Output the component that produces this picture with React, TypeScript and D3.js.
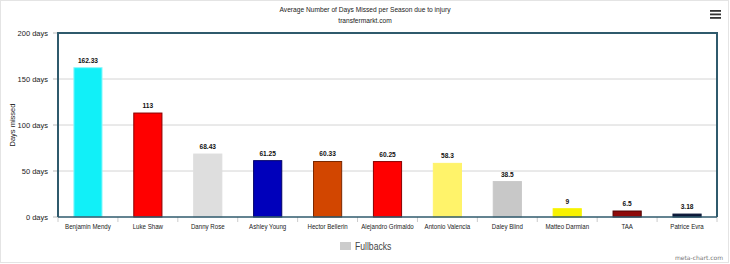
import React from "react";
import * as d3 from "d3";

const categories = [
  "Benjamin Mendy", "Luke Shaw", "Danny Rose", "Ashley Young", "Hector Bellerin",
  "Alejandro Grimaldo", "Antonio Valencia", "Daley Blind", "Matteo Darmian", "TAA", "Patrice Evra",
];
const values = [162.33, 113, 68.43, 61.25, 60.33, 60.25, 58.3, 38.5, 9, 6.5, 3.18];
const valueLabels = ["162.33", "113", "68.43", "61.25", "60.33", "60.25", "58.3", "38.5", "9", "6.5", "3.18"];
const fills = ["#11f0f8", "#ff0000", "#dedede", "#0000bb", "#d24600", "#ff0000", "#fff36a", "#c8c8c8", "#f7f200", "#8e0a0a", "#0b1838"];
const strokes = ["#8ff7fb", "#8a0000", "#dedede", "#000066", "#7a2800", "#8a0000", "#fff36a", "#c8c8c8", "#f7f200", "#500000", "#0b1838"];
const yTicks = [0, 50, 100, 150, 200];
const seriesName = "Fullbacks";

const W = 730, H = 264;
const M = { left: 58, right: 717, top: 33, bottom: 217 };

function T({ x, y, sx = 0.83, children, ...rest }: any) {
  return (
    <text transform={`translate(${x},${y}) scale(${sx},1)`} {...rest}>{children}</text>
  );
}

export default function App() {
  const x = d3.scaleBand<string>().domain(categories).range([M.left, M.right]).paddingInner(0).paddingOuter(0);
  const y = d3.scaleLinear().domain([0, 200]).range([M.bottom, M.top]);
  const bw = x.bandwidth() * 0.47;
  const font = "'Liberation Sans', Arial, sans-serif";
  return (
    <svg width={W} height={H} style={{ position: "absolute", left: 0, top: 0, background: "#fff" }} fontFamily={font}>
      <rect x={0.5} y={0.5} width={W - 2} height={H - 2} fill="#fff" stroke="#e4e4e4" />
      <T x={365} y={12} textAnchor="middle" fontSize={8} fill="#222">Average Number of Days Missed per Season due to injury</T>
      <T x={365} y={23} textAnchor="middle" fontSize={8} fill="#222">transfermarkt.com</T>
      {[0, 1, 2].map((i) => (
        <rect key={i} x={710} y={10 + i * 3.5} width={11} height={1.8} fill="#333" />
      ))}
      {yTicks.filter((t) => t > 0 && t < 200).map((t) => (
        <line key={t} x1={M.left} x2={M.right} y1={y(t)} y2={y(t)} stroke="#d4d4d4" strokeWidth={1} />
      ))}
      {yTicks.map((t) => (
        <g key={"yt" + t}>
          <line x1={M.left - 5} x2={M.left} y1={y(t)} y2={y(t)} stroke="#bbb" />
          <text x={M.left - 10} y={y(t) + 3} textAnchor="end" fontSize={7.5} fill="#222">{t} days</text>
        </g>
      ))}
      <text transform={`translate(15,${(M.top + M.bottom) / 2}) rotate(-90)`} textAnchor="middle" fontSize={7.5} fill="#222">Days missed</text>
      {categories.map((c, i) => {
        const cx = (x(c) as number) + x.bandwidth() / 2;
        return (
          <g key={c}>
            <rect x={cx - bw / 2} y={y(values[i])} width={bw} height={M.bottom - y(values[i])} fill={fills[i]} stroke={strokes[i]} strokeWidth={1} />
            <T x={cx} y={y(values[i]) - 5} sx={0.88} textAnchor="middle" fontSize={7.5} fontWeight="bold" fill="#111">{valueLabels[i]}</T>
            <T x={cx} y={229} sx={0.82} textAnchor="middle" fontSize={7.5} fill="#222">{c}</T>
            <line x1={x(c) as number} x2={x(c) as number} y1={M.bottom} y2={M.bottom + 5} stroke="#ccc" />
          </g>
        );
      })}
      <line x1={M.right} x2={M.right} y1={M.bottom} y2={M.bottom + 5} stroke="#ccc" />
      <path d={`M${M.left},${M.bottom}V${M.top}H${M.right}V${M.bottom}`} fill="none" stroke="#2f5a6c" strokeWidth={2} />
      <line x1={M.left} x2={M.right} y1={M.bottom} y2={M.bottom} stroke="#2f5a6c" strokeWidth={1.5} />
      <rect x={340} y={242} width={11} height={8} fill="#cccccc" />
      <T x={355} y={249.5} sx={0.82} fontSize={10.5} fill="#444">{seriesName}</T>
      <text x={723} y={260} textAnchor="end" fontSize={6} fill="#777" fontFamily="'DejaVu Sans', sans-serif">meta-chart.com</text>
    </svg>
  );
}
